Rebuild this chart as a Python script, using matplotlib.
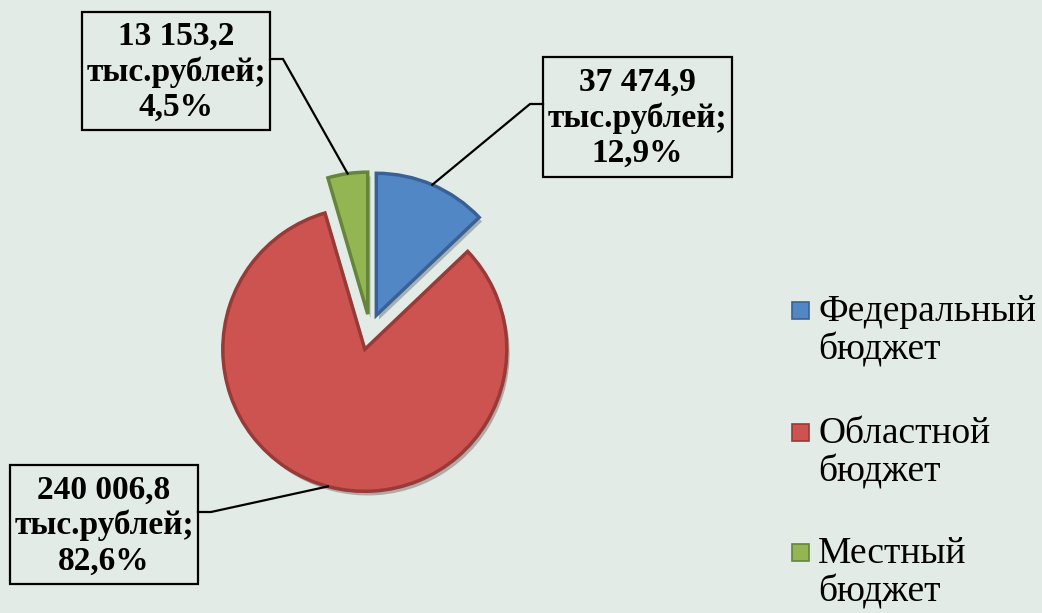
import matplotlib
matplotlib.use("Agg")
import matplotlib.pyplot as plt
import matplotlib.patches as mpatches
import matplotlib.patheffects as pe
import numpy as np

# ---- data ----
categories = ["Федеральный\nбюджет", "Областной\nбюджет", "Местный\nбюджет"]
values = [37474.9, 240006.8, 13153.2]
unit = "тыс.рублей"
colors = ["#5287C6", "#CD5350", "#93B653"]
edge_colors = ["#3A6196", "#983A37", "#66853A"]

W, H = 1042, 613
BG = "#E3EBE7"

def Y(y):  # pixel row (top-down) -> data y (bottom-up)
    return H - y

fig = plt.figure(figsize=(W / 100, H / 100), dpi=100, facecolor=BG)
ax = fig.add_axes([0, 0, 1, 1])
ax.set_facecolor(BG)

total = sum(values)
pct = [v / total * 100 for v in values]

def fmt_num(v):
    return f"{v:,.1f}".replace(",", " ").replace(".", ",")

def fmt_pct(p):
    return f"{p:.1f}".replace(".", ",") + "%"

wedges, _ = ax.pie(values, colors=colors, startangle=90, counterclock=False,
                   center=(370, Y(330)), radius=142, explode=[16, 20, 16],
                   wedgeprops=dict(linewidth=2.5),
                   frame=False)
for w, ec in zip(wedges, edge_colors):
    w.set_edgecolor(ec)
    w.set_path_effects([pe.SimplePatchShadow(offset=(2, -3), alpha=0.3), pe.Normal()])

ax.set_xlim(0, W)
ax.set_ylim(0, H)
ax.set_aspect("equal")
ax.axis("off")

# ---- data labels in boxes ----
boxes = [  # (left, top, right, bottom) in pixels, and side of leader
    (543, 57, 732, 177, "left"),
    (10, 465, 198, 584, "right"),
    (82, 12, 270, 130, "right"),
]
leader_y = [104, 512, 59]
for w, v, p, (l, t, r, b, side), ly in zip(wedges, values, pct, boxes, leader_y):
    rect = mpatches.Rectangle((l, Y(b)), r - l, b - t, fill=False,
                              edgecolor="black", linewidth=1.6, zorder=5)
    ax.add_patch(rect)
    ax.text((l + r) / 2, Y((t + b) / 2 + 1), f"{fmt_num(v)}\n{unit};\n{fmt_pct(p)}",
            ha="center", va="center", fontsize=24, fontweight="bold",
            family="Liberation Serif", linespacing=1.17, zorder=6)
    # leader line to middle of wedge arc
    thm = np.deg2rad((w.theta1 + w.theta2) / 2)
    cx, cy = w.center
    px = cx + w.r * np.cos(thm)
    py = cy + w.r * np.sin(thm)
    if side == "left":
        x0, x1 = l, l - 13
    else:
        x0, x1 = r, r + 13
    ax.plot([x0, x1, px], [Y(ly), Y(ly), py], color="black", lw=1.6,
            solid_joinstyle="miter", zorder=4)

# ---- legend ----
leg_y = [310, 432, 552]
for cat, c, ec, ly in zip(categories, colors, edge_colors, leg_y):
    sq = mpatches.Rectangle((792, Y(ly + 8.5)), 17, 17, facecolor=c,
                            edgecolor=ec, linewidth=1.2)
    ax.add_patch(sq)
    ax.text(818, Y(ly + 21), cat, ha="left", va="center", fontsize=27,
            family="Liberation Serif", linespacing=1.15)

fig.savefig("out.png", dpi=100, facecolor=BG)
